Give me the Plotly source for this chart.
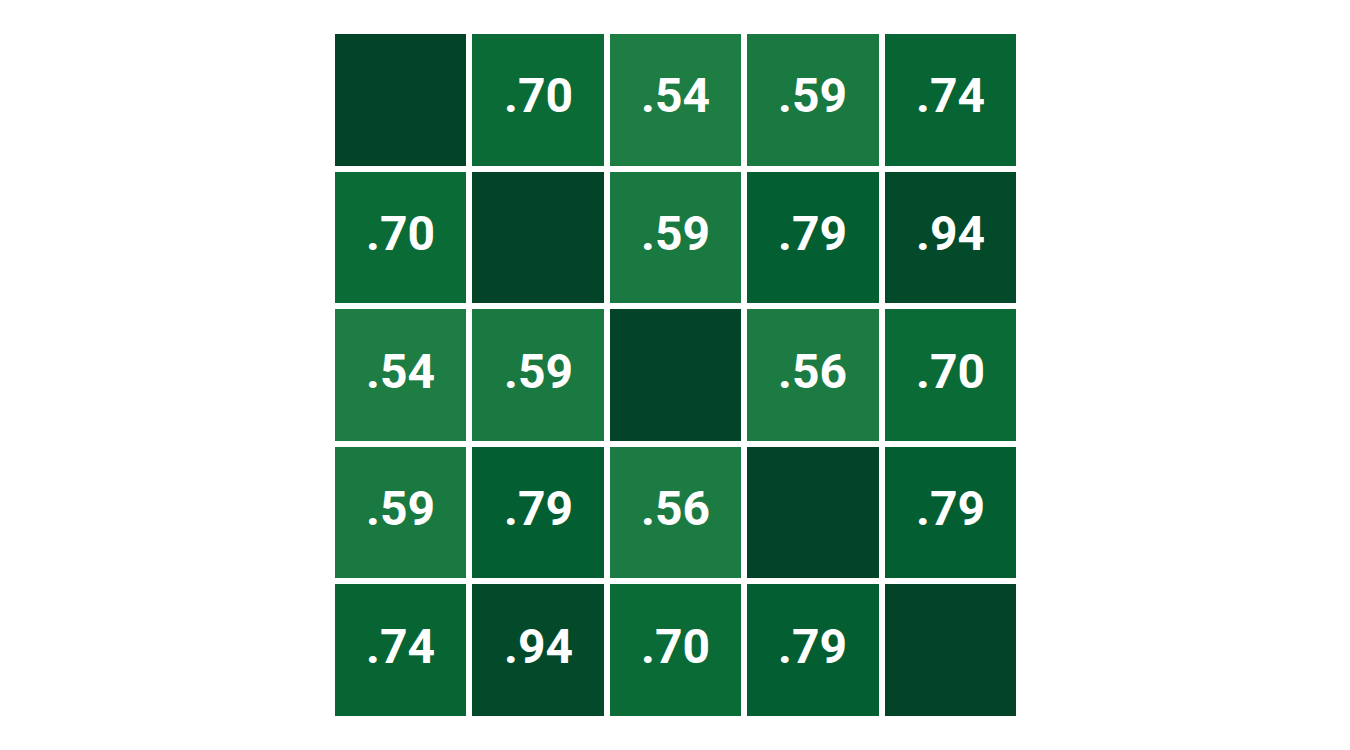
import plotly.graph_objects as go

variables = ["A", "B", "C", "D", "E"]
corr = [
    [1.00, 0.70, 0.54, 0.59, 0.74],
    [0.70, 1.00, 0.59, 0.79, 0.94],
    [0.54, 0.59, 1.00, 0.56, 0.70],
    [0.59, 0.79, 0.56, 1.00, 0.79],
    [0.74, 0.94, 0.70, 0.79, 1.00],
]

colorscale = [
    [0.0, "#228044"],
    [0.2, "#187840"],
    [0.4, "#0a6b37"],
    [0.6, "#025c30"],
    [0.8, "#024e2b"],
    [1.0, "#034328"],
]

fig = go.Figure(go.Heatmap(
    z=corr, x=variables, y=variables,
    colorscale=colorscale, zmin=0.5, zmax=1.0, showscale=False,
    xgap=6, ygap=6, hoverinfo="skip",
))

for i, row in enumerate(corr):
    for j, v in enumerate(row):
        if i == j:
            continue
        fig.add_annotation(
            x=variables[j], y=variables[i],
            text=f"{v:.2f}".lstrip("0"), showarrow=False, yshift=4,
            font=dict(family="Roboto", size=48, color="white", weight="bold"),
        )

fig.update_layout(
    width=1350, height=750,
    margin=dict(l=332, r=331, t=31, b=31),
    plot_bgcolor="white", paper_bgcolor="white",
    xaxis=dict(showticklabels=False, showgrid=False, zeroline=False, ticks=""),
    yaxis=dict(showticklabels=False, showgrid=False, zeroline=False, ticks="", autorange="reversed"),
)
fig.write_html("out.html")
